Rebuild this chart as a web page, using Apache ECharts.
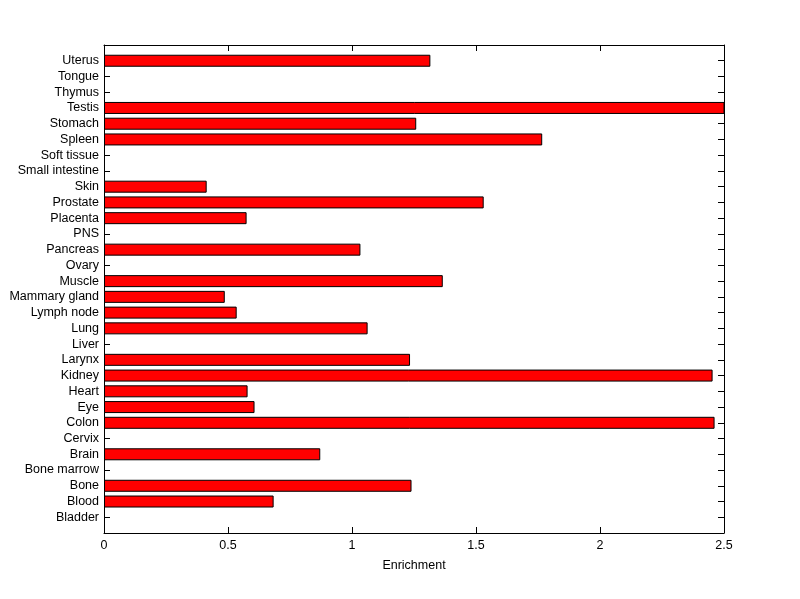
<!DOCTYPE html>
<html>
<head>
<meta charset="utf-8">
<script src="https://cdn.jsdelivr.net/npm/echarts@6/dist/echarts.min.js"></script>
<style>html,body{margin:0;padding:0;background:#fff;}#c{width:800px;height:599px;}</style>
</head>
<body>
<div id="c"></div>
<script>
// Categories listed bottom to top
var categories = ['Bladder','Blood','Bone','Bone marrow','Brain','Cervix','Colon','Eye','Heart','Kidney','Larynx','Liver','Lung','Lymph node','Mammary gland','Muscle','Ovary','Pancreas','PNS','Placenta','Prostate','Skin','Small intestine','Soft tissue','Spleen','Stomach','Testis','Thymus','Tongue','Uterus'];
var enrichment = [0, 0.684, 1.240, 0, 0.872, 0, 2.462, 0.607, 0.579, 2.454, 1.234, 0, 1.063, 0.535, 0.487, 1.366, 0, 1.034, 0, 0.575, 1.531, 0.414, 0, 0, 1.767, 1.259, 2.62, 0, 0, 1.316];
var xTicks = [0, 0.5, 1, 1.5, 2, 2.5];
var xLabel = 'Enrichment';

var cats = [''].concat(categories).concat(['']);
var vals = ['-'].concat(enrichment.map(function(v){ return v === 0 ? '-' : v; })).concat(['-']);

var font = 'Arial, "Liberation Sans", Helvetica, sans-serif';
var fs = 12.5;
var chart = echarts.init(document.getElementById('c'));
chart.setOption({
  animation: false,
  backgroundColor: '#ffffff',
  grid: {left: 104, right: 76, top: 45, bottom: 66, containLabel: false},
  xAxis: [{
    type: 'value', position: 'bottom',
    min: xTicks[0], max: xTicks[xTicks.length-1], interval: 0.5,
    name: xLabel, nameLocation: 'middle', nameGap: 26,
    nameTextStyle: {fontFamily: font, fontSize: fs, color: '#000'},
    axisLine: {show: true, onZero: false, lineStyle: {color: '#000', width: 1}},
    axisTick: {show: true, inside: true, length: 6, lineStyle: {color: '#000'}},
    axisLabel: {fontFamily: font, fontSize: fs, color: '#000', margin: 6,
      formatter: function(v){ return String(v); }},
    splitLine: {show: false}
  }, {
    type: 'value', position: 'top',
    min: xTicks[0], max: xTicks[xTicks.length-1], interval: 0.5,
    axisLine: {show: true, onZero: false, lineStyle: {color: '#000', width: 1}},
    axisTick: {show: true, inside: true, length: 6, lineStyle: {color: '#000'}},
    axisLabel: {show: false},
    splitLine: {show: false}
  }],
  yAxis: [{
    type: 'category', position: 'left', data: cats, boundaryGap: false,
    axisLine: {show: true, onZero: false, lineStyle: {color: '#000', width: 1}},
    axisTick: {show: true, inside: true, length: 6, interval: 0, lineStyle: {color: '#000'}},
    axisLabel: {fontFamily: font, fontSize: fs, color: '#000', margin: 5, interval: 0},
    splitLine: {show: false}
  }, {
    type: 'category', position: 'right', data: cats, boundaryGap: false,
    axisLine: {show: true, onZero: false, lineStyle: {color: '#000', width: 1}},
    axisTick: {show: true, inside: true, length: 6, interval: 0, lineStyle: {color: '#000'}},
    axisLabel: {show: false},
    splitLine: {show: false}
  }],
  series: [{
    type: 'bar', xAxisIndex: 0, yAxisIndex: 0,
    data: vals, barWidth: 12, clip: true,
    itemStyle: {color: '#ff0000', borderColor: '#000', borderWidth: 1}
  }]
});
</script>
</body>
</html>
